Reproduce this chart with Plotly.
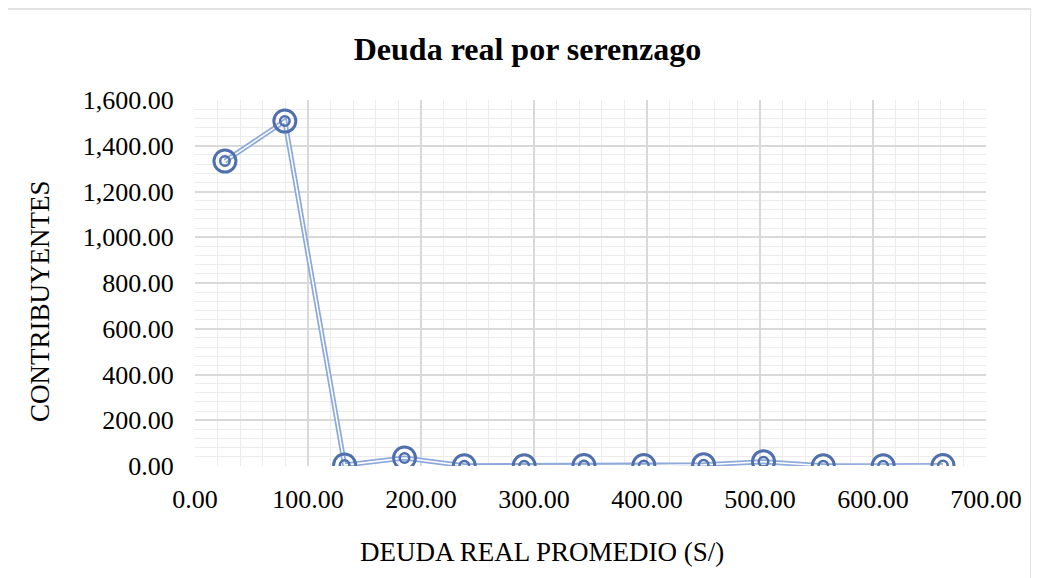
import plotly.graph_objects as go

deuda_promedio = [26.5, 79.5, 132.4, 185.4, 238.3, 291.3, 344.2, 397.2, 450.1, 503.1, 556.0, 609.0, 661.9]
contribuyentes = [1333, 1508, 4, 35, 1, 1, 2, 2, 5, 19, 1, 1, 2]

x_ticks = [0, 100, 200, 300, 400, 500, 600, 700]
y_ticks = [0, 200, 400, 600, 800, 1000, 1200, 1400, 1600]

FONT = "Liberation Serif, Times New Roman, serif"
LINE_COLOR = "#8eaadb"
MARK_COLOR = "#4f6fad"

fig = go.Figure()
# double line: wide light-blue line with a thin white line on top
fig.add_trace(go.Scatter(x=deuda_promedio, y=contribuyentes, mode="lines",
                         line=dict(color=LINE_COLOR, width=5), hoverinfo="skip", showlegend=False))
fig.add_trace(go.Scatter(x=deuda_promedio, y=contribuyentes, mode="lines",
                         line=dict(color="white", width=1.5), hoverinfo="skip", showlegend=False))
# double-circle markers
fig.add_trace(go.Scatter(x=deuda_promedio, y=contribuyentes, mode="markers",
                         marker=dict(symbol="circle-open", size=22, color=MARK_COLOR,
                                     line=dict(width=3)), showlegend=False))
fig.add_trace(go.Scatter(x=deuda_promedio, y=contribuyentes, mode="markers",
                         marker=dict(symbol="circle-open", size=9.5, color=MARK_COLOR,
                                     line=dict(width=2.5)), showlegend=False))

axis_common = dict(
    showgrid=True, gridcolor="#d9d9d9", gridwidth=1.5,
    showline=False, zeroline=False, automargin=False,
    tickfont=dict(family=FONT, size=26, color="#000000"),
    ticks="outside", tickcolor="rgba(0,0,0,0)",
)

# page body adds an 8px offset, so margins are shifted by -8 px
fig.update_layout(
    width=1039, height=578,
    margin=dict(l=187, r=61, t=92, b=120),
    paper_bgcolor="white", plot_bgcolor="white",
    title=dict(text="<b>Deuda real por serenzago</b>", x=0.5, xanchor="center",
               y=1 - 41 / 578, yanchor="middle",
               font=dict(family=FONT, size=32, color="#000000")),
    xaxis=dict(**axis_common, range=[0, 700], tickvals=x_ticks,
               ticktext=[f"{v:,.2f}" for v in x_ticks], ticklen=10,
               minor=dict(dtick=20, showgrid=True, gridcolor="#ececec", gridwidth=1.3)),
    yaxis=dict(**axis_common, range=[0, 1600], tickvals=y_ticks,
               ticktext=[f"{v:,.2f}" for v in y_ticks], ticklen=15,
               minor=dict(dtick=40, showgrid=True, gridcolor="#ececec", gridwidth=1.3)),
    annotations=[
        dict(text="DEUDA REAL PROMEDIO (S/)", xref="paper", yref="paper",
             x=(534 - 187) / 791, y=(458 - 544) / 366, xanchor="center", yanchor="middle",
             showarrow=False, font=dict(family=FONT, size=27, color="#000000")),
        dict(text="CONTRIBUYENTES", xref="paper", yref="paper", textangle=-90,
             x=(32 - 187) / 791, y=(458 - 293) / 366, xanchor="center", yanchor="middle",
             showarrow=False, font=dict(family=FONT, size=27, color="#000000")),
    ],
    shapes=[dict(type="rect", xref="paper", yref="paper",
                 x0=(7 - 195) / 791, x1=(1031 - 195) / 791,
                 y0=(466 - 600) / 366, y1=(466 - 9) / 366,
                 line=dict(color="#d9d9d9", width=1.5), fillcolor="rgba(0,0,0,0)", layer="below")],
)

fig.write_html("out.html")
